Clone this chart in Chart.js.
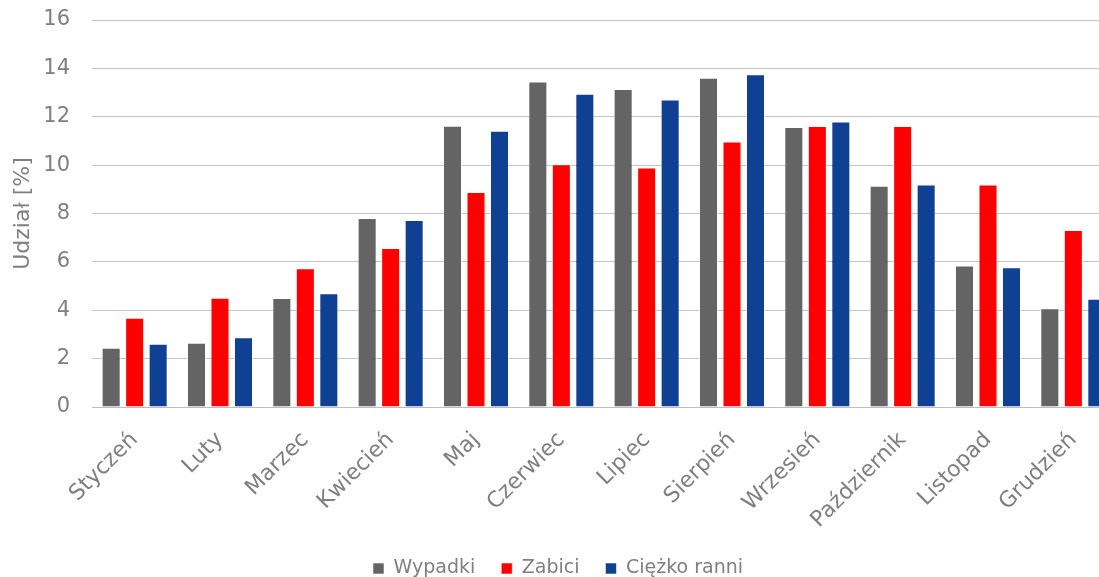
<!DOCTYPE html>
<html>
<head>
<meta charset="utf-8">
<script src="https://cdn.jsdelivr.net/npm/chart.js@4/dist/chart.umd.min.js"></script>
<style>
  html, body { margin: 0; padding: 0; overflow: hidden; background: #ffffff; }
  #wrap { width: 1122px; height: 588px; }
</style>
</head>
<body>
<div id="wrap"><canvas id="c" width="1122" height="588" style="width:1122px;height:588px"></canvas></div>
<script>
const categories = ['Styczeń','Luty','Marzec','Kwiecień','Maj','Czerwiec','Lipiec','Sierpień','Wrzesień','Październik','Listopad','Grudzień'];
const wypadki    = [2.45, 2.66, 4.51, 7.81, 11.63, 13.46, 13.15, 13.61, 11.58, 9.15, 5.85, 4.08];
const zabici     = [3.69, 4.52, 5.74, 6.57, 8.89, 10.04, 9.90, 10.98, 11.62, 11.62, 9.20, 7.32];
const ciezkoRanni= [2.61, 2.88, 4.70, 7.73, 11.42, 12.95, 12.71, 13.76, 11.80, 9.20, 5.78, 4.48];
const seriesNames = ['Wypadki', 'Zabici', 'Ciężko ranni'];
const yTicks = [0, 2, 4, 6, 8, 10, 12, 14, 16];
const yTitle = 'Udział [%]';

const FONT = "'DejaVu Sans', Verdana, sans-serif";
const TXT = '#7f7f7f';

function ds(label, data, color) {
  return {
    label, data,
    backgroundColor: color,
    borderColor: 'rgba(255,255,255,0.55)',
    borderWidth: 1,
    categoryPercentage: 0.826,
    barPercentage: 0.81
  };
}

new Chart(document.getElementById('c'), {
  type: 'bar',
  data: {
    labels: categories,
    datasets: [
      ds(seriesNames[0], wypadki, '#646464'),
      ds(seriesNames[1], zabici, '#ff0000'),
      ds(seriesNames[2], ciezkoRanni, '#104094')
    ]
  },
  options: {
    responsive: false,
    animation: false,
    devicePixelRatio: 1,
    layout: { padding: { top: 20, right: 6, left: 0, bottom: 0 } },
    plugins: {
      tooltip: { enabled: false },
      legend: {
        position: 'bottom',
        labels: {
          color: TXT,
          font: { family: FONT, size: 19 },
          boxWidth: 11,
          boxHeight: 11,
          padding: 26
        }
      }
    },
    scales: {
      x: {
        grid: { display: false, drawTicks: false },
        border: { display: true, color: '#bdbdbd', width: 1 },
        ticks: {
          color: TXT,
          font: { family: FONT, size: 22 },
          minRotation: 45,
          maxRotation: 45,
          padding: 20,
          autoSkip: false
        },
        afterFit: s => { s.height = 126; }
      },
      y: {
        min: 0, max: 16,
        afterBuildTicks: s => { s.ticks = yTicks.map(v => ({ value: v })); },
        grid: { color: '#c4c4c4', lineWidth: 1, drawTicks: true, tickLength: 20, tickColor: 'rgba(0,0,0,0)' },
        border: { display: false },
        ticks: {
          color: TXT,
          font: { family: FONT, size: 21 },
          padding: 2
        },
        title: {
          display: true,
          text: yTitle,
          color: TXT,
          font: { family: FONT, size: 22 },
          padding: { top: 10, bottom: 0 }
        },
        afterFit: s => { s.width = 92; }
      }
    }
  }
});
</script>
</body>
</html>
